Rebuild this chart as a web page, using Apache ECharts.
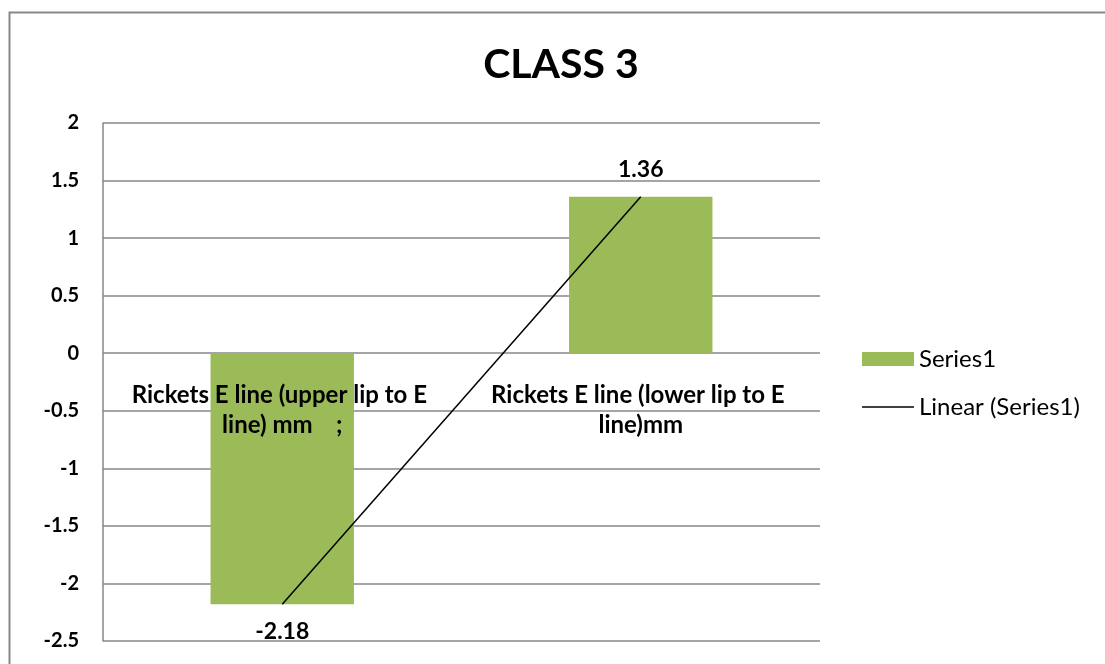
<!DOCTYPE html>
<html>
<head>
<meta charset="utf-8">
<script src="https://cdn.jsdelivr.net/npm/echarts@6/dist/echarts.min.js"></script>
<style>
  html, body { margin: 0; padding: 0; background: #fff; }
  #chart { width: 1105px; height: 664px; }
</style>
</head>
<body>
<div id="chart"></div>
<script>
// Chart data
const titleText = 'CLASS 3';
const categories = [
  'Rickets E line (upper lip to E line) mm    ;',
  'Rickets E line (lower lip to E line)mm'
];
const seriesName = 'Series1';
const trendName = 'Linear (Series1)';
const values = [-2.18, 1.36];
const yMin = -2.5, yMax = 2, yStep = 0.5;

// Least-squares trend through the series points (x = 1..n)
function linearTrend(ys) {
  const n = ys.length;
  const xs = ys.map((_, i) => i + 1);
  const mx = xs.reduce((a, b) => a + b, 0) / n;
  const my = ys.reduce((a, b) => a + b, 0) / n;
  let sxy = 0, sxx = 0;
  for (let i = 0; i < n; i++) { sxy += (xs[i] - mx) * (ys[i] - my); sxx += (xs[i] - mx) ** 2; }
  const slope = sxy / sxx, icpt = my - slope * mx;
  return xs.map(x => +(icpt + slope * x).toFixed(4));
}
const trendValues = linearTrend(values);

const FONT = 'Lato, "Open Sans", sans-serif';
const GRAY = '#878787';

const chart = echarts.init(document.getElementById('chart'), null, { renderer: 'canvas' });
chart.setOption({
  animation: false,
  backgroundColor: '#fff',
  title: {
    text: titleText,
    left: 556, top: 40, textAlign: 'center',
    textStyle: { fontFamily: FONT, fontWeight: 'bold', fontSize: 41, lineHeight: 40, color: '#000' }
  },
  graphic: [{
    type: 'rect', left: 7, top: 10, silent: true,
    shape: { width: 1200, height: 800 },
    style: { fill: 'none', stroke: GRAY, lineWidth: 2 }
  }],
  legend: {
    orient: 'vertical', left: 862, top: 347, itemGap: 24, padding: 0,
    itemWidth: 52, itemHeight: 14, symbolKeepAspect: true,
    textStyle: { fontFamily: FONT, fontSize: 24, color: '#000' },
    data: [
      { name: seriesName, icon: 'rect' },
      { name: trendName, icon: 'path://M0,0H52V1.5H0Z' }
    ]
  },
  grid: { left: 103, top: 123, right: 285, bottom: 23, containLabel: false, outerBoundsMode: 'none' },
  xAxis: {
    type: 'category', data: categories, z: 10,
    axisLine: { show: false, onZero: false },
    axisTick: { show: false },
    axisLabel: {
      interval: 0, margin: 27, width: 320, overflow: 'break',
      lineHeight: 30,
      fontFamily: FONT, fontWeight: 'bold', fontSize: 24, color: '#000'
    }
  },
  yAxis: {
    type: 'value', min: yMin, max: yMax, interval: yStep,
    axisLine: { show: true, lineStyle: { color: GRAY, width: 1.5 } },
    axisTick: { show: false },
    splitLine: { show: true, lineStyle: { color: GRAY, width: 1.5 } },
    axisLabel: { margin: 24, fontFamily: FONT, fontWeight: 'bold', fontSize: 20, color: '#000' }
  },
  series: [
    {
      name: seriesName, type: 'bar',
      barCategoryGap: '60%',
      itemStyle: { color: '#9BBB59' },
      label: {
        show: true, distance: 16,
        fontFamily: FONT, fontWeight: 'bold', fontSize: 23, color: '#000',
        formatter: p => p.value.toFixed(2)
      },
      data: values.map(v => ({
        value: v,
        label: { position: v < 0 ? 'bottom' : 'top' }
      }))
    },
    {
      name: trendName, type: 'line', data: trendValues, z: 5,
      symbol: 'none', showSymbol: false,
      lineStyle: { color: '#000', width: 1.5 },
      itemStyle: { color: '#000' }
    }
  ]
});

// Category labels sit on the zero line: shift the x axis up from the grid bottom to y = 0
const yZero = chart.convertToPixel({ yAxisIndex: 0 }, 0);
const yBottom = chart.convertToPixel({ yAxisIndex: 0 }, yMin);
chart.setOption({ xAxis: { offset: yZero - yBottom } });
</script>
</body>
</html>
